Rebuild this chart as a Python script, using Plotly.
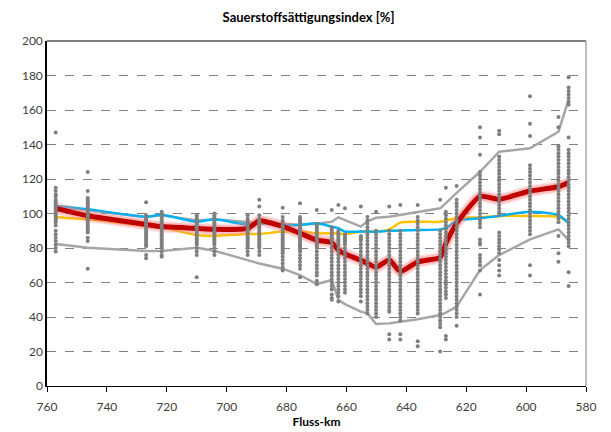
import plotly.graph_objects as go

# ---------------- data ----------------
title_text = "Sauerstoffsättigungsindex [%]"
x_title = "Fluss-km"

line_km = [757.1, 746.4, 726.9, 721.7, 710.0, 704.1, 693.0, 689.1, 681.3, 675.5,
           669.9, 664.9, 662.7, 660.5, 655.2, 653.0, 650.1, 645.7, 642.0, 636.2,
           628.7, 626.8, 623.2, 615.4, 609.0, 598.7, 589.2, 585.8]

red_vals = [103.0, 98.7, 93.7, 92.4, 91.4, 90.8, 91.4, 95.8, 92.5, 88.5,
            84.6, 83.1, 78.8, 76.5, 73.0, 71.1, 68.8, 73.0, 66.3, 72.0,
            74.6, 82.7, 94.3, 110.0, 108.2, 113.0, 115.5, 118.0]

blue_vals = [104.3, 102.4, 98.1, 99.3, 95.2, 96.6, 93.5, 94.3, 93.3, 93.3,
             94.3, 92.4, 91.5, 89.5, 89.5, 89.5, 89.5, 90.0, 90.2, 90.4,
             90.8, 91.5, 95.8, 97.2, 98.6, 101.0, 99.1, 94.3]

orange_vals = [97.8, 96.6, 92.8, 92.0, 87.5, 87.0, 88.1, 88.1, 89.5, 89.5,
               88.5, 88.5, 88.3, 88.1, 89.5, 89.5, 89.5, 90.8, 94.7, 95.2,
               95.2, 96.0, 97.2, 97.8, 98.6, 98.6, 98.1, 95.0]

upper_vals = [104.0, 102.0, 98.0, 99.0, 96.0, 96.6, 95.0, 94.5, 94.0, 93.5,
              94.0, 95.2, 97.8, 96.2, 92.4, 95.5, 97.5, 98.1, 99.1, 101.0,
              103.0, 106.0, 112.0, 124.2, 135.8, 137.8, 147.4, 166.0]

lower_vals = [82.3, 80.2, 78.3, 78.3, 80.2, 78.4, 73.0, 71.0, 68.0, 64.3,
              59.1, 61.4, 50.0, 47.5, 43.1, 42.1, 35.9, 36.3, 37.3, 38.7,
              41.2, 42.5, 46.0, 67.2, 75.9, 85.0, 90.8, 84.6]

# measured single values per column (Fluss-km -> values)
dots = {
    757.1: [147, 115, 113, 111, 110, 108, 107, 106, 105, 104, 103, 102, 101, 100, 99, 98, 97, 96, 95, 93, 90, 88, 86, 84, 82, 80, 78],
    746.4: [124, 113, 109, 108, 107, 106, 105, 104, 103, 102, 101, 100, 99, 98, 97, 96, 95, 94, 93, 92, 91, 90, 89, 86, 84, 68],
    726.9: [106.5, 99, 98, 97, 96, 95, 94, 93, 92, 91, 90, 89, 88, 87, 86, 85, 84, 83, 82, 81, 76, 74],
    721.7: [101, 100, 99, 98, 97, 96, 95, 94, 93, 92, 91, 90, 89, 88, 87, 86, 85, 84, 83, 82, 81, 80, 78, 76, 75],
    710.0: [99, 98, 97, 96, 95, 94, 93, 92, 91, 90, 89, 88, 87, 86, 85, 84, 83, 82, 80, 78, 76, 63],
    704.1: [100, 99, 98, 97, 96, 95, 94, 93, 92, 91, 90, 89, 88, 87, 86, 85, 84, 83, 82, 80, 78, 76],
    693.0: [99, 97, 96, 95, 94, 93, 92, 91, 90, 89, 88, 87, 86, 85, 84, 83, 82, 81, 80, 78, 76],
    689.1: [108, 104, 99, 97, 96, 95, 94, 93, 92, 91, 90, 89, 88, 87, 86, 85, 84, 83, 82, 81, 80, 78, 76],
    681.3: [103.4, 98, 96, 95, 93, 92, 91, 90, 89, 88, 87, 86, 85, 84, 83, 82, 81, 80, 79, 78, 77, 75, 73, 71, 69, 67],
    675.5: [106, 98, 97, 96, 95, 94, 93, 92, 91, 90, 89, 88, 87, 86, 85, 84, 83, 82, 81, 80, 79, 78, 76, 74, 72, 70, 68, 63],
    669.9: [102, 94, 93, 92, 91, 90, 89, 88, 87, 86, 85, 84, 83, 82, 81, 80, 78, 76, 74, 72, 70, 68, 66, 64, 61, 59],
    664.9: [102, 92, 91, 90, 89, 88, 87, 86, 85, 84, 82, 80, 78, 76, 74, 72, 70, 68, 66, 64, 62, 60, 58, 56, 53, 51, 50],
    662.7: [105, 90, 89, 88, 87, 86, 85, 84, 83, 82, 80, 78, 76, 74, 72, 70, 68, 66, 64, 62, 60, 58, 56, 54, 52, 49],
    660.5: [103, 88, 87, 86, 85, 84, 83, 82, 80, 78, 76, 74, 72, 70, 68, 66, 64, 62, 60, 58, 56, 54],
    655.2: [104, 87, 86, 85, 84, 82, 80, 78, 76, 74, 72, 70, 68, 66, 64, 62, 60, 58, 56, 54, 52, 49],
    653.0: [98, 96, 94, 92, 90, 88, 86, 84, 82, 80, 78, 76, 74, 72, 70, 68, 66, 64, 62, 60, 58, 56, 54, 52, 50, 48, 46, 44, 42],
    650.1: [101, 90, 88, 86, 84, 82, 80, 78, 76, 74, 72, 70, 68, 66, 64, 62, 60, 58, 56, 54, 52, 50, 48, 46, 44, 42, 40],
    645.7: [104, 90, 88, 86, 84, 82, 80, 78, 76, 74, 72, 70, 68, 66, 64, 62, 60, 58, 56, 54, 52, 50, 48, 46, 44, 43, 30, 27],
    642.0: [105, 90, 88, 86, 84, 82, 80, 78, 76, 74, 72, 70, 68, 66, 64, 62, 60, 58, 56, 54, 52, 50, 48, 46, 44, 42, 40, 38, 30, 27],
    636.2: [105, 98, 96, 94, 92, 90, 88, 86, 84, 82, 80, 78, 76, 74, 72, 70, 68, 66, 64, 62, 60, 58, 56, 54, 52, 50, 48, 46, 44, 42, 26, 23],
    628.7: [108, 90, 88, 86, 84, 82, 80, 78, 76, 74, 72, 70, 68, 66, 64, 62, 60, 58, 56, 54, 52, 50, 48, 46, 44, 42, 40, 38, 36, 34, 20],
    626.8: [115, 101, 99, 97, 95, 93, 91, 89, 87, 85, 83, 81, 79, 77, 75, 73, 71, 69, 67, 65, 63, 61, 59, 57, 55, 53, 51, 29, 27],
    623.2: [116, 108, 106, 104, 102, 100, 98, 96, 94, 92, 90, 88, 86, 84, 82, 80, 78, 76, 74, 72, 70, 68, 66, 64, 62, 60, 58, 56, 54, 52, 50, 48, 46, 44, 42, 40, 35],
    615.4: [150, 144, 134, 124, 122, 120, 118, 116, 114, 112, 110, 108, 106, 104, 102, 100, 98, 96, 94, 92, 85, 83, 82, 76, 74, 72, 70, 67, 53],
    609.0: [148, 146, 133, 131, 129, 127, 125, 123, 121, 119, 117, 115, 113, 111, 109, 107, 105, 103, 101, 99, 89, 87, 85, 83, 81, 79, 77, 73, 70, 67, 64],
    598.7: [168, 152, 145, 128, 126, 124, 122, 120, 118, 116, 114, 112, 110, 108, 106, 104, 102, 100, 98, 96, 94, 92, 90, 88, 70, 64],
    589.2: [156, 150, 139, 137, 135, 133, 131, 129, 127, 125, 123, 121, 119, 117, 115, 113, 111, 109, 107, 105, 103, 101, 99, 97, 95, 87, 77, 72],
    585.8: [179, 173, 171, 169, 167, 165, 163, 144, 137, 135, 133, 131, 129, 127, 125, 123, 121, 119, 117, 115, 113, 111, 109, 107, 105, 103, 101, 99, 97, 95, 93, 91, 89, 87, 85, 83, 81, 66, 58],
}

x_ticks = [760, 740, 720, 700, 680, 660, 640, 620, 600, 580]
y_ticks = [0, 20, 40, 60, 80, 100, 120, 140, 160, 180, 200]

# ---------------- figure ----------------
dot_x, dot_y = [], []
for km, vals in dots.items():
    for v in vals:
        dot_x.append(km)
        dot_y.append(v)

fig = go.Figure()

grey_line = dict(color="#A6A6A6", width=2.5)
fig.add_trace(go.Scatter(x=line_km, y=upper_vals, mode="lines", line=grey_line, hoverinfo="skip"))
fig.add_trace(go.Scatter(x=line_km, y=lower_vals, mode="lines", line=grey_line, hoverinfo="skip"))

fig.add_trace(go.Scatter(x=line_km, y=orange_vals, mode="lines",
                         line=dict(color="#FFC000", width=2.5, shape="spline", smoothing=0.6)))
fig.add_trace(go.Scatter(x=line_km, y=blue_vals, mode="lines",
                         line=dict(color="#00B0F0", width=2.5, shape="spline", smoothing=0.6)))

# red line with soft pink glow
fig.add_trace(go.Scatter(x=line_km, y=red_vals, mode="lines",
                         line=dict(color="rgba(255,140,140,0.25)", width=12, shape="spline", smoothing=0.5)))
fig.add_trace(go.Scatter(x=line_km, y=red_vals, mode="lines",
                         line=dict(color="rgba(255,120,120,0.35)", width=9, shape="spline", smoothing=0.5)))
fig.add_trace(go.Scatter(x=line_km, y=red_vals, mode="lines",
                         line=dict(color="#C00000", width=5, shape="spline", smoothing=0.5)))

fig.add_trace(go.Scatter(x=dot_x, y=dot_y, mode="markers",
                         marker=dict(color="#7F7F7F", size=4, line=dict(width=0))))

font_family = "Lato, 'Liberation Sans', sans-serif"

fig.update_layout(
    width=611, height=432,
    margin=dict(l=47, r=25, t=41, b=46, autoexpand=False),
    paper_bgcolor="white", plot_bgcolor="white",
    showlegend=False,
    font=dict(family=font_family, size=12, color="#404040"),
    title=dict(text="<b>" + title_text + "</b>", x=0.505, xanchor="center",
               y=1 - 17 / 432, yanchor="middle",
               font=dict(family=font_family, size=13, color="#000000")),
    xaxis=dict(range=[760, 580], tickvals=x_ticks, ticks="outside", ticklen=5,
               tickcolor="#000000", showline=True, linecolor="#000000", linewidth=1,
               showgrid=False, zeroline=False, automargin=False, ticklabelstandoff=5,
               title=dict(text="<b>" + x_title + "</b>", standoff=4,
                          font=dict(family=font_family, size=12, color="#000000"))),
    yaxis=dict(range=[0, 200], tickvals=y_ticks, ticks="", showline=True,
               linecolor="#000000", linewidth=1.5, showgrid=True, automargin=False,
               gridcolor="#808080", griddash="dash", gridwidth=1, zeroline=False),
    shapes=[
        dict(type="line", xref="paper", yref="paper", x0=0, x1=1, y0=1, y1=1,
             line=dict(color="#000000", width=1)),
        dict(type="line", xref="paper", yref="paper", x0=1, x1=1, y0=0, y1=1,
             line=dict(color="#808080", width=1)),
    ],
)

fig.write_html("out.html")
